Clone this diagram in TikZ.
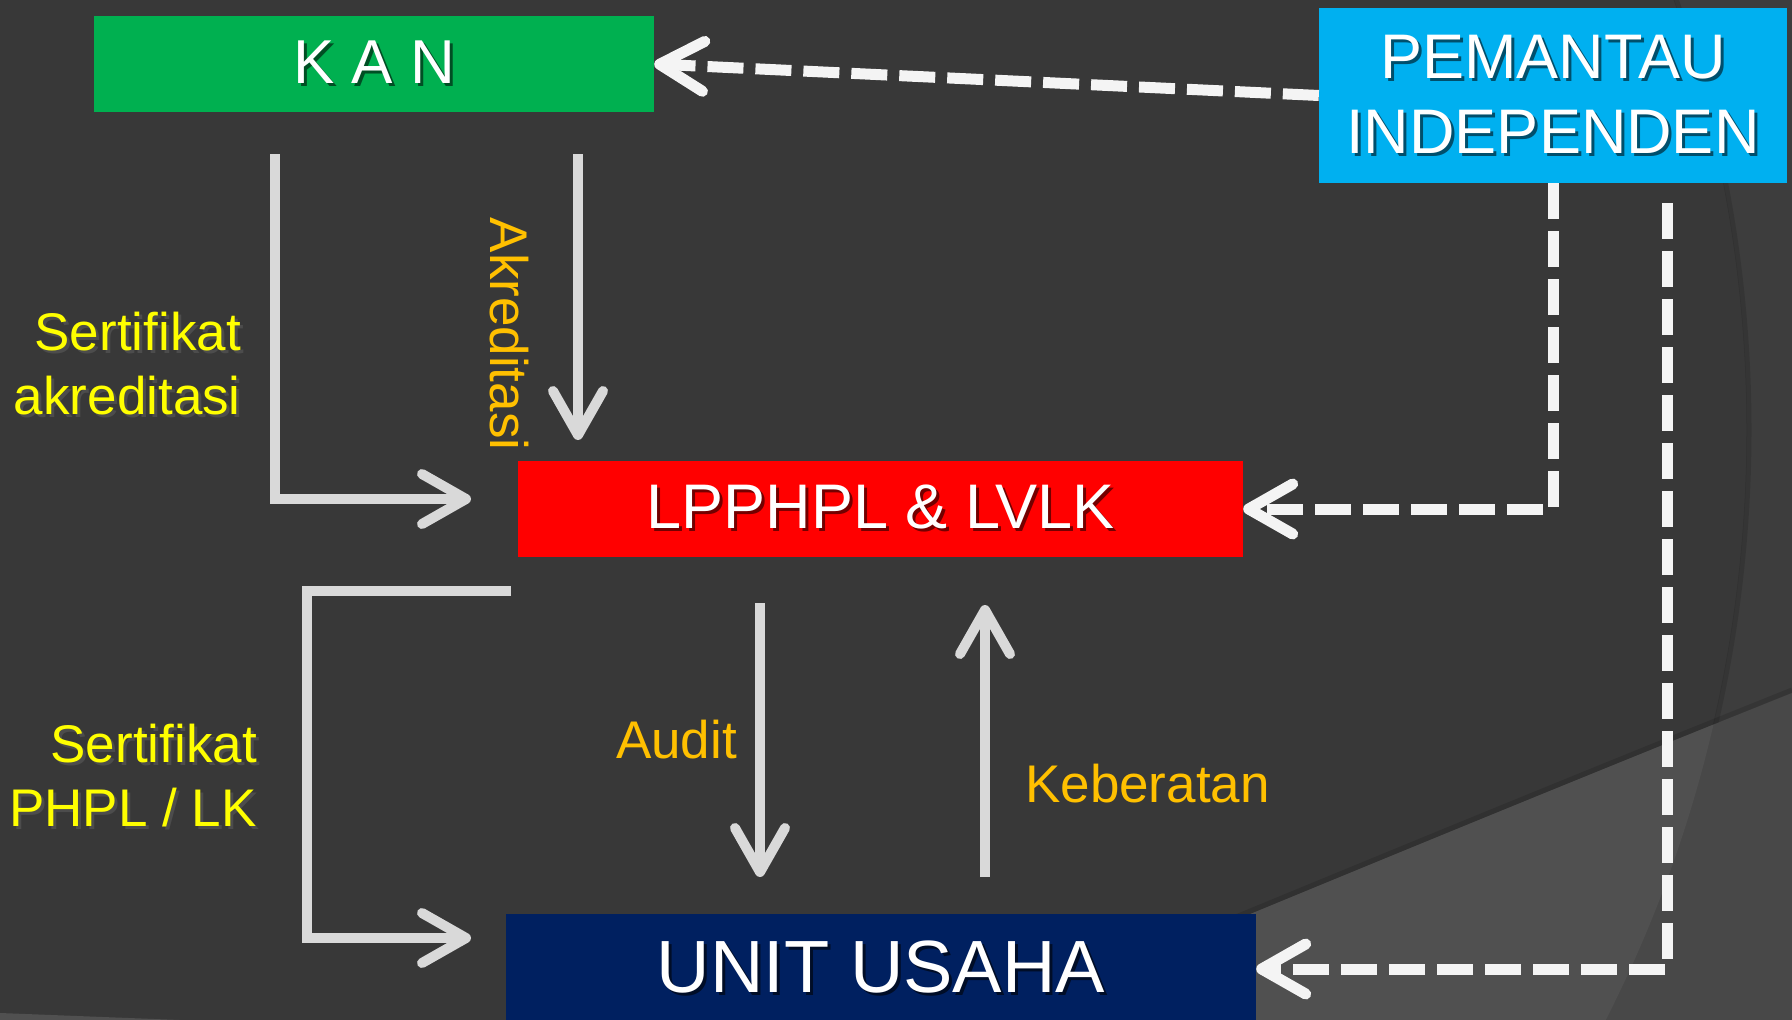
\documentclass[tikz,border=0pt]{standalone}
\usepackage{fontspec}
\setmainfont{Liberation Sans}
\usetikzlibrary{arrows.meta,calc}
\definecolor{bgbase}{HTML}{383838}
\definecolor{bgout}{HTML}{3D3D3D}
\definecolor{bglight}{HTML}{505050}
\definecolor{bglight2}{HTML}{484848}
\definecolor{kgreen}{HTML}{00B050}
\definecolor{pblue}{HTML}{00B0F0}
\definecolor{lred}{HTML}{FF0000}
\definecolor{unavy}{HTML}{002060}
\definecolor{arrgray}{HTML}{D9D9D9}
\definecolor{dashw}{HTML}{F4F4F4}
\definecolor{lblyellow}{HTML}{FFFF00}
\definecolor{lblorange}{HTML}{FFC000}
\newcommand\shd[2]{\makebox[0pt][l]{\hspace{3pt}\raisebox{-3pt}{\textcolor{#1}{#2}}}#2}
\begin{document}
\begin{tikzpicture}[x=1pt,y=-1pt,
  box/.style={rectangle, draw=none, inner sep=0pt, text=white, align=center},
  solidarr/.style={draw=arrgray, line width=10pt, -{Straight Barb[length=44pt,width=50pt,round]}},
  dasharr/.style={draw=dashw, line width=11pt, dash pattern=on 36pt off 12pt, -{Straight Barb[length=44pt,width=50pt,round]}},
  lbl/.style={inner sep=0pt, font=\fontsize{53}{64}\selectfont},
]
% background
\useasboundingbox (0,0) rectangle (1792,1020);
\begin{scope}
\clip (0,0) rectangle (1792,1020);
\fill[bgout] (0,0) rectangle (1792,1020);
\fill[bgbase] (447,430) circle[radius=1300pt];
\draw[black, opacity=0.12, line width=5pt] (447,430) circle[radius=1302pt];
\fill[bglight2] (994,1020) .. controls (1200,935) and (1500,810) .. (1792,693) -- (1792,1020) -- cycle;
\begin{scope}
\clip (447,430) circle[radius=1300pt];
\fill[bglight] (994,1020) .. controls (1200,935) and (1500,810) .. (1792,693) -- (1792,1020) -- cycle;
\end{scope}
\draw[black, opacity=0.12, line width=5pt] (994,1017) .. controls (1200,932) and (1500,807) .. (1792,690);
\fill[bglight] (0,1013) -- (180,1020) -- (0,1020) -- cycle;
\end{scope}

% boxes
\node[box, fill=kgreen, minimum width=560pt, minimum height=96pt, font=\fontsize{62}{62}\selectfont] (K) at (374,64) {\shd{black!55!kgreen}{K A N}};
\node[box, fill=pblue, minimum width=468pt, minimum height=175pt, font=\fontsize{63}{75}\selectfont] (P) at (1553,95.5) {\shd{black!55!pblue}{PEMANTAU}\\\shd{black!55!pblue}{INDEPENDEN}};
\node[box, fill=lred, minimum width=725pt, minimum height=96pt, font=\fontsize{63}{63}\selectfont] (L) at (880.5,509) {\shd{black!55!lred}{LPPHPL \& LVLK}};
\node[box, fill=unavy, minimum width=750pt, minimum height=110pt, font=\fontsize{74}{74}\selectfont] (U) at (881,969) {\shd{black!60!unavy}{UNIT USAHA}};

% connector end points
\coordinate (d2) at (1667,203);
\coordinate (a1) at (275,154);
\coordinate (a2) at (471,499);
\coordinate (b1) at (578,154);
\coordinate (b2) at (578,440);
\coordinate (c1) at (511,591);
\coordinate (c0) at (307,591);
\coordinate (c2) at (471,938);
\coordinate (e1) at (760,603);
\coordinate (e2) at (760,877);
\coordinate (f1) at (985,877);
\coordinate (f2) at (985,605);

% dashed connectors
\draw[dasharr] (P.west) -- (K.east);
\draw[dasharr] (P.south) |- (L.east);
\draw[dasharr] (d2) |- (U.east);

% solid connectors
\draw[solidarr] (a1) |- (a2);
\draw[solidarr] (b1) -- (b2);
\draw[solidarr] (c1) -- (c0) |- (c2);
\draw[solidarr] (e1) -- (e2);
\draw[solidarr] (f1) -- (f2);

% labels
\node[lbl, anchor=east, align=right, text=lblyellow] (sa) at (241,365) {\shd{black!70}{Sertifikat}\\\shd{black!70}{akreditasi}};
\node[lbl, anchor=east, align=right, text=lblyellow] (sp) at (257,777) {\shd{black!70}{Sertifikat}\\\shd{black!70}{PHPL / LK}};
\node[lbl, rotate=-90, text=lblorange] (ak) at (509,334) {Akreditasi};
\node[lbl, anchor=east, text=lblorange] (au) at (737,740) {Audit};
\node[lbl, anchor=west, text=lblorange] (kb) at (1025,784) {Keberatan};
\end{tikzpicture}
\end{document}
